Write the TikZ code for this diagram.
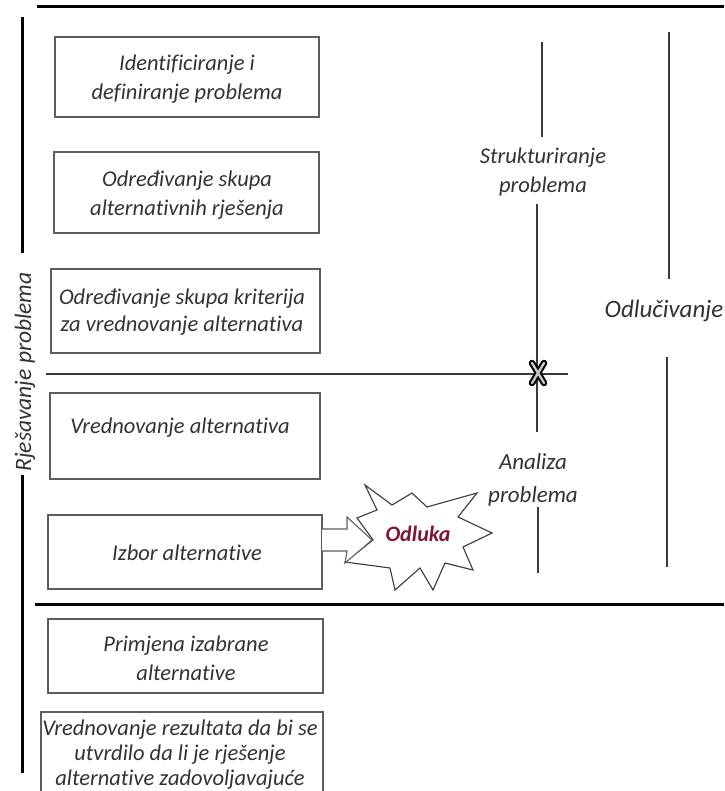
\documentclass[tikz,border=0pt]{standalone}
\usepackage{fontspec}
\setmainfont[Ligatures={NoCommon}]{Carlito}
\definecolor{boxgray}{HTML}{5E5E5E}
\definecolor{txtgray}{HTML}{333333}
\definecolor{linegray}{HTML}{3A3A3A}
\definecolor{odluka}{HTML}{7F1734}
\begin{document}
\begin{tikzpicture}[x=1pt,y=-1pt,
  box/.style={draw=boxgray, line width=1.3pt, fill=white},
  txt/.style={font=\fontsize{22.5}{29}\selectfont\itshape, text=txtgray, align=center, inner sep=0pt},
  heavy/.style={line width=3pt, black},
  thin/.style={line width=1.1pt, linegray}
]
\path[use as bounding box] (0,0) rectangle (724,791);
\clip (0,0) rectangle (724,791);
\fill[white] (0,0) rectangle (724,791);

% heavy frame lines
\coordinate (topL) at (37,7);
\coordinate (topR) at (724,7);
\coordinate (midL) at (35,604);
\coordinate (midR) at (724,604);
\coordinate (leftA) at (22,17);
\coordinate (leftB) at (22,253);
\coordinate (leftC) at (22,475);
\coordinate (leftD) at (22,773);
\draw[heavy] (topL) -- (topR);
\draw[heavy] (midL) -- (midR);
\draw[heavy] (leftA) -- (leftB);
\draw[heavy] (leftC) -- (leftD);
\node[txt, font=\fontsize{23.5}{29}\selectfont\itshape, rotate=90] (resav) at (25,372) {Rješavanje problema};

% boxes
\draw[box] (55,37) rectangle (319,117);
\node[txt] (b1) at (187,79) {Identificiranje i\\definiranje problema};
\draw[box] (54,152) rectangle (319,233);
\node[txt] (b2) at (187,195) {Određivanje skupa\\alternativnih rješenja};
\draw[box] (51,269) rectangle (320,353);
\node[txt, font=\fontsize{22.5}{27}\selectfont\itshape] (b3) at (182,312) {Određivanje skupa kriterija\\za vrednovanje alternativa};
\draw[box] (50,393) rectangle (320,479);
\node[txt] (b4) at (180,428) {Vrednovanje alternativa};
\draw[box] (48,515) rectangle (322,589);
\node[txt] (b5) at (187,553) {Izbor alternative};
\draw[box] (48,619) rectangle (323,693);
\node[txt] (b6) at (186,658) {Primjena izabrane\\alternative};
\draw[box] (41,712) rectangle (323,830);
\node[txt, font=\fontsize{22.5}{25}\selectfont\itshape] (b7) at (180,755) {Vrednovanje rezultata da bi se\\utvrdilo da li je rješenje\\alternative zadovoljavajuće};

% thin structure lines
\coordinate (hL) at (46,374);
\coordinate (hR) at (568,374);
\draw[thin] (hL) -- (hR);

\node[txt] (strukt) at (543,172) {Strukturiranje\\problema};
\node[txt, font=\fontsize{23}{33}\selectfont\itshape] (analiza) at (533,480) {Analiza\\problema};
\node[txt, font=\fontsize{25}{30}\selectfont\itshape] (odluc) at (664,311) {Odlučivanje};

\coordinate (a1) at (542,42);
\coordinate (a2) at (542,137);
\coordinate (a3) at (537,204);
\coordinate (a4) at (537,432);
\coordinate (a5) at (538,507);
\coordinate (a6) at (538,573);
\draw[thin] (a1) -- (a2);
\draw[thin] (a3) -- (a4);
\draw[thin] (a5) -- (a6);

\coordinate (c1) at (669,32);
\coordinate (c2) at (669,279);
\coordinate (c3) at (667,357);
\coordinate (c4) at (667,567);
\draw[thin] (c1) -- (c2);
\draw[thin] (c3) -- (c4);

% X mark at the crossing
\coordinate (xm) at (538,373);
\draw[line width=6.5pt, black, line cap=round] ([shift={(-6,-10)}]xm) -- ([shift={(6,10)}]xm)
  ([shift={(6,-10)}]xm) -- ([shift={(-6,10)}]xm);
\draw[line width=2.4pt, gray!45, line cap=round] ([shift={(-6,-10)}]xm) -- ([shift={(6,10)}]xm)
  ([shift={(6,-10)}]xm) -- ([shift={(-6,10)}]xm);

% star "Odluka"
\draw[line width=1.1pt, linegray, fill=white, line join=miter]
  (365,485) -- (392,505) -- (412,493) -- (427,507) -- (477,493) -- (458,517)
  -- (492,533) -- (463,547) -- (473,570) -- (445,563) -- (433,590) -- (420,568)
  -- (395,590) -- (390,568) -- (345,562) -- (373,540) -- (357,518) -- (377,510) -- cycle;
\node[font=\fontsize{22}{26}\selectfont\bfseries\itshape, text=odluka, inner sep=0pt] (odl) at (418,534) {Odluka};

% block arrow from box to star
\draw[line width=1.1pt, boxgray, fill=white, line join=miter]
  (322,529) -- (347,529) -- (347,517) -- (372,540) -- (345,563) -- (347,551) -- (322,551);
\end{tikzpicture}
\end{document}
